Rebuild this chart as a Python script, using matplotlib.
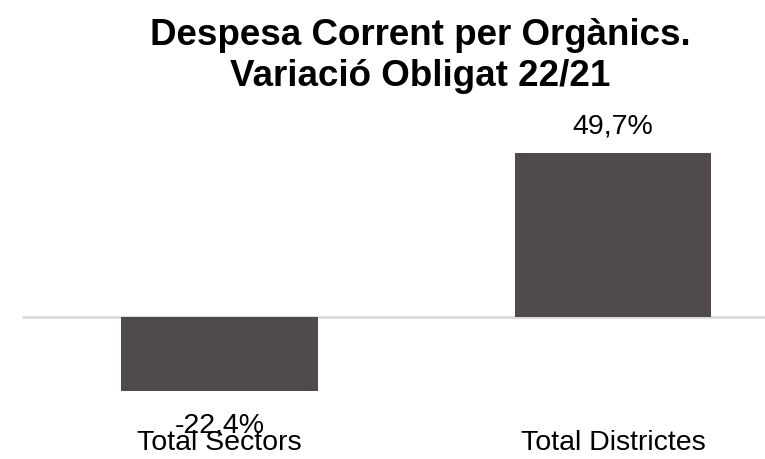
import matplotlib
matplotlib.use("Agg")
import matplotlib.pyplot as plt

categories = ["Total Sectors", "Total Districtes"]
values = [-22.4, 49.7]
value_labels = ["-22,4%", "49,7%"]
title = "Despesa Corrent per Orgànics.\nVariació Obligat 22/21"

plt.rcParams['font.family'] = ['Liberation Sans', 'DejaVu Sans']

W, H = 765, 459
fig = plt.figure(figsize=(W / 100, H / 100), dpi=100)

# axes in pixel terms: left 23, right 765, top 100, bottom 430
ax = fig.add_axes([23 / W, 1 - 430 / H, (765 - 23) / W, (430 - 100) / H])
px_per_unit = 3.3
zero_y = 317
ax.set_ylim(-(430 - zero_y) / px_per_unit, (zero_y - 100) / px_per_unit)
ax.set_xlim(-0.5, (765 - 220) / 393)

x = list(range(len(categories)))
bar_color = "#504b4a"
ax.bar(x, values, width=0.5, color=bar_color, zorder=2)
ax.axhline(0, color="#d9d9d9", lw=2, zorder=1)

for xi, v, lab in zip(x, values, value_labels):
    if v >= 0:
        ax.annotate(lab, (xi, v), xytext=(0, 26), textcoords="offset pixels",
                    ha="center", va="center", fontsize=20.5, color="black")
    else:
        ax.annotate(lab, (xi, v), xytext=(0, -35), textcoords="offset pixels",
                    ha="center", va="center", fontsize=20.5, color="black")

ax.set_xticks(x)
ax.set_xticklabels(categories, fontsize=20.5)
ax.tick_params(axis="x", length=0, pad=0)
ax.set_yticks([])
for s in ax.spines.values():
    s.set_visible(False)

fig.text(420 / W, 1 - 56 / H, title, ha="center", va="center", fontsize=26.5,
         fontweight="bold", linespacing=1.2)

fig.savefig("out.png", dpi=100)
